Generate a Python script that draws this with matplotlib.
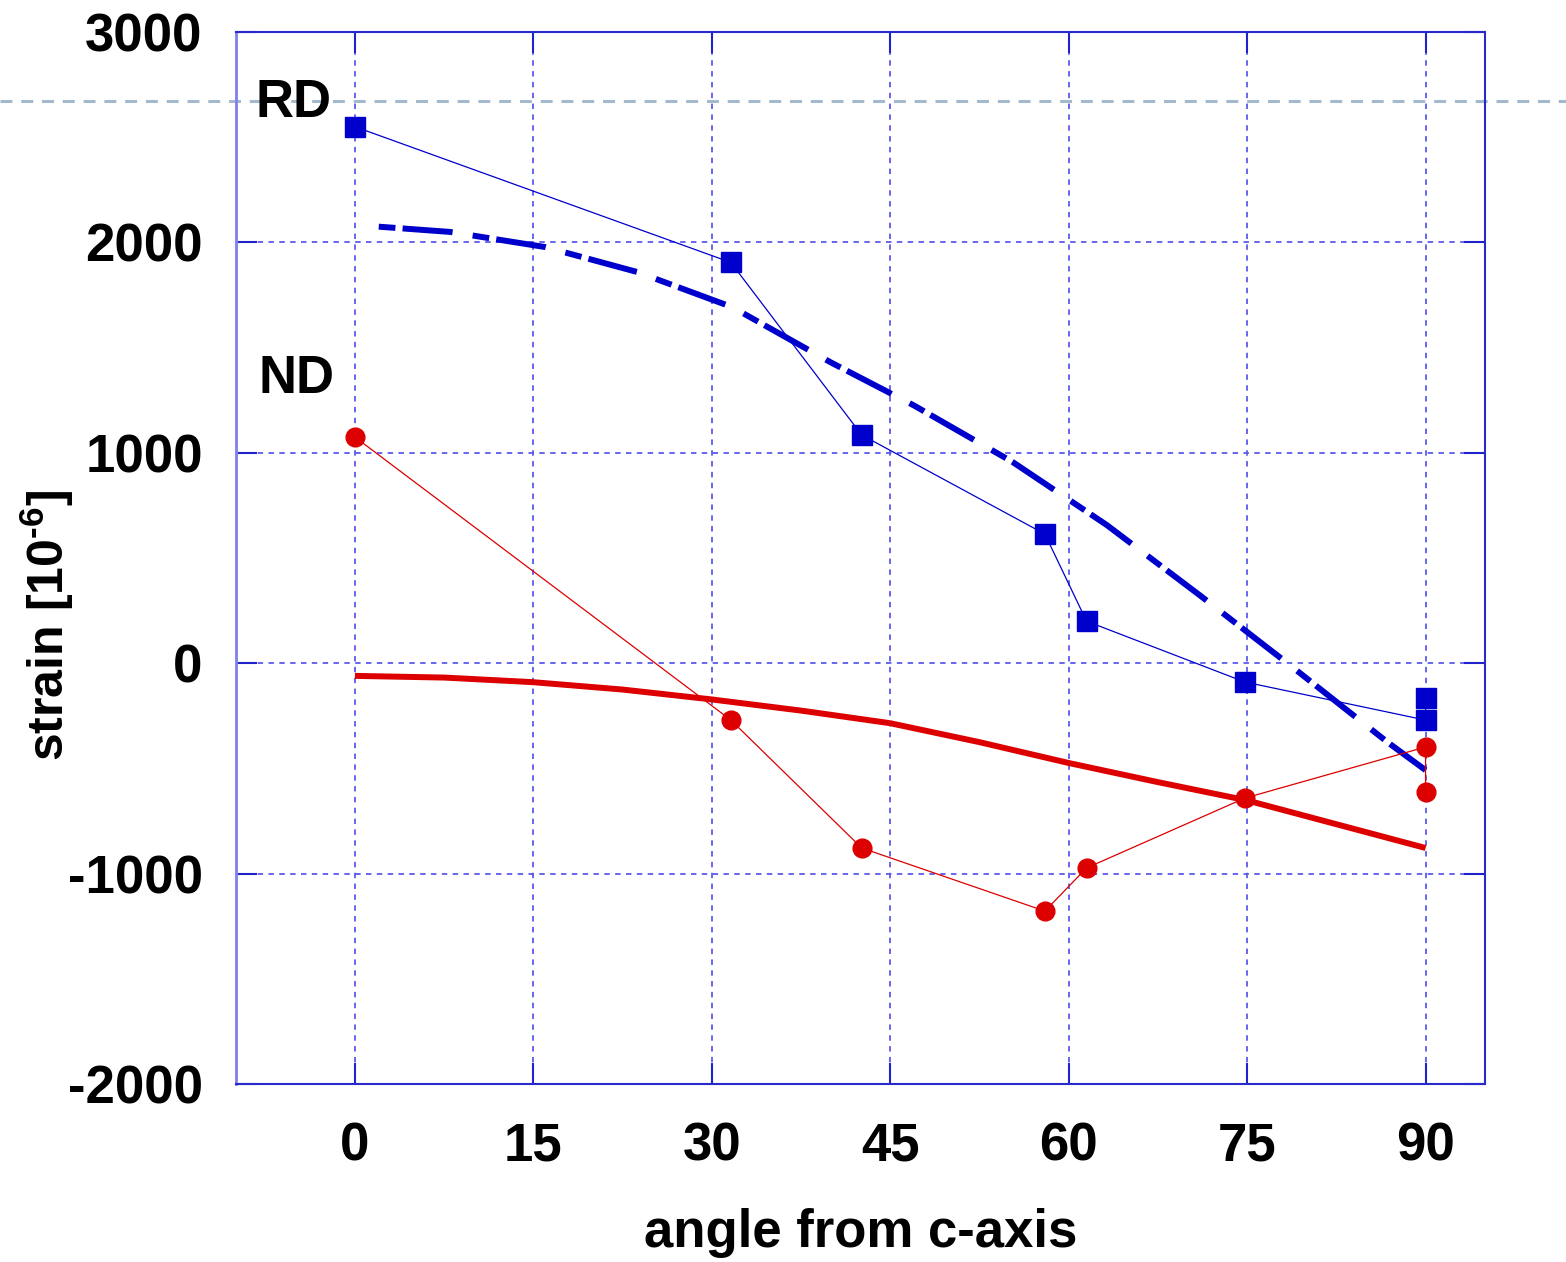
import numpy as np
import matplotlib as mpl
mpl.use('Agg')
import matplotlib.pyplot as plt
import matplotlib.transforms as mtransforms

plt.rcParams['font.family'] = ['Liberation Sans', 'DejaVu Sans']
plt.rcParams['font.weight'] = 'bold'
plt.rcParams['mathtext.fontset'] = 'custom'
plt.rcParams['mathtext.rm'] = 'Liberation Sans:bold'
plt.rcParams['mathtext.bf'] = 'Liberation Sans:bold'
plt.rcParams['axes.unicode_minus'] = False

# measured points
rd_angle = [0, 31.6, 42.6, 58.0, 61.5, 74.8, 90, 90]
rd_strain = [2550, 1905, 1085, 614, 200, -89, -270, -165]
nd_angle = [0, 31.6, 42.6, 58.0, 61.5, 74.8, 90, 90]
nd_strain = [1075, -270, -878, -1178, -973, -641, -398, -612]

# calculated curves
rd_calc_angle = [2, 8, 16, 23.7, 31.7, 40, 47, 55.3, 63.2, 71, 78.8, 86.8, 90]
rd_calc_strain = [2075, 2050, 1978, 1860, 1693, 1430, 1225, 956, 657, 324, -18, -375, -508]
nd_calc_angle = [0, 7.5, 15, 22.5, 30, 37.5, 45, 52.5, 60, 67.5, 75, 82.5, 90]
nd_calc_strain = [-60, -68, -90, -125, -172, -225, -285, -375, -474, -565, -652, -765, -878]

ref_level = 2672

xticks = [0, 15, 30, 45, 60, 75, 90]
yticks = [-2000, -1000, 0, 1000, 2000, 3000]

blue = '#0000cc'
red = '#dd0000'

fig = plt.figure(figsize=(15.66, 12.62), dpi=100)
ax = fig.add_axes([0.1507, 0.1410, 0.7976, 0.8336])

ax.plot(rd_angle, rd_strain, '-', color=blue, lw=0.9, marker='s', ms=14.4,
        mec=blue, mfc=blue, zorder=4)
ax.plot(nd_angle, nd_strain, '-', color=red, lw=0.9, marker='o', ms=13.5,
        mec=red, mfc=red, zorder=4)
ax.plot(rd_calc_angle, rd_calc_strain, color=blue, lw=4.3, solid_capstyle='butt',
        dashes=(2.8, 1.2, 8.4, 3.4), dash_capstyle='butt', zorder=3)
ax.plot(nd_calc_angle, nd_calc_strain, color=red, lw=4.3, solid_capstyle='butt',
        solid_joinstyle='round', zorder=3)

# dashed reference line across the whole figure
tr = mtransforms.blended_transform_factory(fig.transFigure, ax.transData)
ax.plot([0, 1], [ref_level, ref_level], transform=tr, color='#a4b9cc', lw=2.2,
        dashes=(3.9, 2.9), clip_on=False, zorder=2)

ax.text(-8.4, 2665, 'RD', fontsize=38, fontweight='bold', va='center', ha='left')
ax.text(-8.15, 1350, 'ND', fontsize=38, fontweight='bold', va='center', ha='left')

ax.set_xlim(-10, 95)
ax.set_ylim(-2000, 3000)
ax.set_xticks(xticks)
ax.set_yticks(yticks)
ax.grid(True, color='#5a5aee', lw=1.3, dashes=(3, 3))
ax.set_axisbelow(True)

for s in ax.spines.values():
    s.set_color('#2a2acc')
    s.set_linewidth(1.5)
ax.spines['left'].set_color('#8080ee')
ax.spines['left'].set_linewidth(2)

ax.tick_params(axis='both', direction='in', length=15, width=1.5, color='#2222cc',
               labelsize=38, top=True, right=True)
ax.tick_params(axis='y', pad=24)
ax.tick_params(axis='x', pad=27)
for lab in ax.get_xticklabels() + ax.get_yticklabels():
    lab.set_fontweight('bold')

ax.set_xlabel('angle from c-axis', fontsize=38, fontweight='bold')
ax.xaxis.set_label_coords(0.5, -0.118)
ax.set_ylabel(r'strain [10$^{\text{-6}}$]', fontsize=36, fontweight='bold')
ax.yaxis.set_label_coords(-0.128, 0.436)

fig.savefig('out.png', dpi=100)
